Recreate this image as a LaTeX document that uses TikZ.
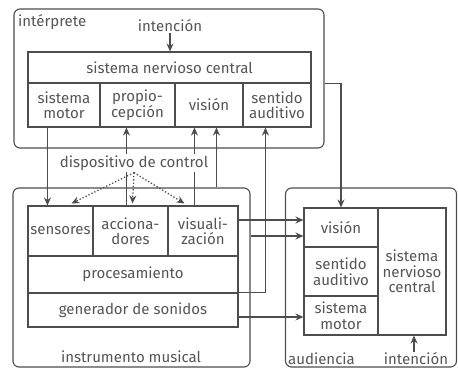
\documentclass[tikz,border=0pt]{standalone}
\usepackage{fontspec}
\setmainfont{Fira Sans}
\usetikzlibrary{arrows.meta,calc}
\definecolor{ink}{HTML}{4D4D4D}
\definecolor{txt}{HTML}{555555}
\begin{document}
\begin{tikzpicture}[x=1pt,y=-1pt,
  every node/.style={text=txt,font=\fontsize{15}{15.5}\selectfont},
  cell/.style={draw=ink,line width=1.1pt,align=center,inner sep=0pt,minimum height=#1},
  outer/.style={draw=ink,line width=1.1pt,rounded corners=6pt,inner sep=0pt},
  arr/.style={draw=ink,line width=1.3pt,-{Stealth[length=8pt,width=7pt]}},
  dots/.style={draw=ink,line width=1.3pt,dotted,-{Stealth[length=8pt,width=7pt]}},
  lbl/.style={inner sep=1pt}]
\useasboundingbox (0,0) rectangle (458,369);
% outer boxes
\node[outer,minimum width=310pt,minimum height=139pt] (interp) at (169,78.5) {};
\node[outer,minimum width=237pt,minimum height=179pt] (instr) at (131.5,277.5) {};
\node[outer,minimum width=171pt,minimum height=179pt] (aud) at (371,277.5) {};
% interprete table
\node[cell=31pt,minimum width=283pt] (sncI) at (169.5,67.5) {sistema nervioso central};
\node[cell=44pt,minimum width=72pt] (smI) at (64,105) {sistema\\motor};
\node[cell=44pt,minimum width=75pt] (prop) at (137.5,105) {propio-\\cepción};
\node[cell=44pt,minimum width=68pt] (visI) at (209,105) {visión};
\node[cell=44pt,minimum width=68pt] (saI) at (277,105) {sentido\\auditivo};
\node[lbl,anchor=west] (tInt) at (17,22) {intérprete};
\node[lbl] (intI) at (170,26) {intención};
% instrument table
\node[cell=50pt,minimum width=65pt] (sens) at (60.5,231) {sensores};
\node[cell=50pt,minimum width=75pt] (acc) at (130.5,231) {acciona-\\dores};
\node[cell=50pt,minimum width=70pt] (vis) at (203,231) {visuali-\\zación};
\node[cell=37pt,minimum width=210pt] (proc) at (133,274.5) {procesamiento};
\node[cell=34pt,minimum width=210pt] (gen) at (133,310) {generador de sonidos};
\node[lbl] (tIns) at (131,357) {instrumento musical};
% audiencia table
\node[cell=39pt,minimum width=74pt] (visA) at (341,227.5) {visión};
\node[cell=49pt,minimum width=74pt] (saA) at (341,271.5) {sentido\\auditivo};
\node[cell=39pt,minimum width=74pt] (smA) at (341,315.5) {sistema\\motor};
\node[cell=127pt,minimum width=68pt] (sncA) at (412,271.5) {sistema\\nervioso\\central};
\node[lbl,anchor=west] (tAud) at (287,359) {audiencia};
\node[lbl] (intA) at (416,359) {intención};
% intention arrows
\draw[arr] (intI.south) -- (intI.south |- sncI.north);
\draw[arr] (intA.north -| 414,0) -- (sncA.south -| 414,0);
% interpreter <-> instrument
\draw[arr] ([xshift=20pt]smI.south west) -- ([xshift=20pt]sens.north west);
\draw[arr] ([xshift=34pt]acc.north west) -- ([xshift=34pt]acc.north west |- prop.south);
\draw[arr] ([xshift=27pt]vis.north west) -- ([xshift=27pt]vis.north west |- visI.south);
\draw[arr] ([xshift=42pt]visI.south west |- instr.north) -- ([xshift=42pt]visI.south west);
\draw[arr] (gen.north east) -| ([xshift=23pt]saI.south west);
% to audience
\draw[arr] (interp.east |- sncI.south) -| (visA.north);
\draw[arr] ([yshift=7.5pt]visA.west -| vis.east) -- ([yshift=7.5pt]visA.west);
\draw[arr] ([yshift=-8.5pt]visA.west -| instr.east) -- ([yshift=-8.5pt]visA.west);
\draw[arr] ([yshift=-1.5pt]smA.west -| gen.east) -- ([yshift=-1.5pt]smA.west);
% control device
\node[lbl,fill=white,inner sep=2pt] (dc) at (134,163) {dispositivo de control};
\draw[dots] (dc.south) -- ([xshift=44pt,yshift=2pt]sens.north west);
\draw[dots] (dc.south) -- ([xshift=40pt,yshift=2pt]acc.north west);
\draw[dots] (dc.south) -- ([xshift=17pt,yshift=2pt]vis.north west);
\end{tikzpicture}
\end{document}
